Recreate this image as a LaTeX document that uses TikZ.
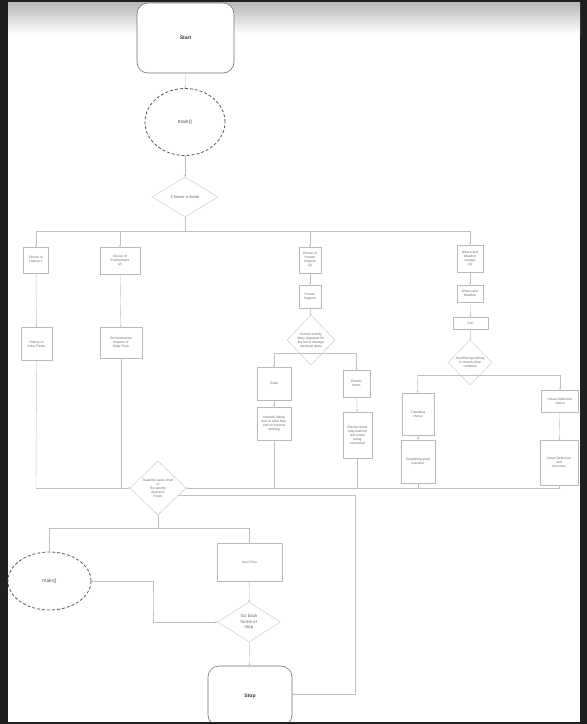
\documentclass[tikz,border=0pt]{standalone}
\usepackage{fontspec}
\setmainfont{Liberation Sans}
\usetikzlibrary{shapes.geometric,arrows.meta}
\tikzset{
  box/.style={draw=black!28, line width=0.4pt, fill=white, align=center, inner sep=0pt,
    font=\fontsize{3.3}{4}\selectfont, text=black!60},
  term/.style={draw=black!55, rounded corners=11pt, line width=0.6pt, fill=white, inner sep=0pt,
    font=\fontsize{5}{6}\selectfont\bfseries, text=black!80},
  ell/.style={ellipse, draw=black!65, densely dashed, line width=0.8pt, fill=white, inner sep=0pt,
    font=\fontsize{5}{6}\selectfont, text=black!70},
  dia/.style={diamond, draw=black!22, line width=0.4pt, fill=white, inner sep=0pt},
  dtext/.style={align=center, inner sep=0pt, font=\fontsize{3.3}{4}\selectfont, text=black!60},
  conn/.style={draw=black!25, line width=0.4pt},
  arr/.style={conn, -{Stealth[length=2pt,width=2pt]}}
}
\begin{document}
\begin{tikzpicture}[x=1pt,y=-1pt]
\useasboundingbox (0,0) rectangle (587,724);
% screenshot frame
\fill[black!88] (0,0) rectangle (587,724);
\fill[white] (8,2) rectangle (580,722);
\shade[top color=black!28, bottom color=white] (8,2) rectangle (580,34);

% main column
\node[term, minimum width=97, minimum height=70] (start) at (185.5,38) {Start};
\node[ell, minimum width=80, minimum height=67] (main1) at (185,122) {main()};
\node[dia, minimum width=66, minimum height=40,
  label={[dtext, font=\fontsize{4}{5}\selectfont]center:Choose a mode}] (choose) at (185,197) {};
\coordinate (split) at (185,231);

% column 1
\node[box, minimum width=25, minimum height=26] (b1) at (36,260) {Choice of\\History 1};
\node[box, minimum width=31, minimum height=33] (b1b) at (36.5,344) {History of\\Solar Flares};
% column 2
\node[box, minimum width=40, minimum height=27] (b2) at (120,260.5) {Choice of\\Environment\\(2)};
\node[box, minimum width=42, minimum height=31] (b2b) at (121,342.5) {Environmental\\Impacts of\\Solar Flare};
% column 3
\node[box, minimum width=22, minimum height=26] (b3) at (310,260) {Choice of\\Human\\Impacts\\(3)};
\node[box, minimum width=22, minimum height=23] (b3b) at (310,296.5) {Human\\Impacts};
\node[dia, minimum width=48, minimum height=50,
  label={[dtext]center:Human activity\\likely impacted if it\\the fail or damage\\electrical items}] (d3) at (311,340) {};
\coordinate (h3l) at (274,353);
\coordinate (h3r) at (356.5,353);
\node[box, minimum width=34, minimum height=33] (s1) at (274,383.5) {Solar};
\node[box, minimum width=34, minimum height=33] (s2) at (274,423.5) {Network failing\\due to solar flare\\and no internet\\working};
\node[box, minimum width=27, minimum height=27] (e1) at (356.5,383.5) {Electric\\Items};
\node[box, minimum width=29, minimum height=46] (e2) at (357.5,435) {Electric items\\stop working\\and needs\\being\\connected};
% column 4
\node[box, minimum width=26, minimum height=27] (b4) at (470,258.5) {Where and\\Weather\\change\\(4)};
\node[box, minimum width=26, minimum height=17] (b4b) at (470,293.5) {Where and\\Weather};
\node[box, minimum width=35, minimum height=12] (b4c) at (470.5,323) {Sun};
\node[dia, minimum width=44, minimum height=45,
  label={[dtext]center:Avoid being nothing\\in closed urban\\condition}] (d4) at (470,362.5) {};
\coordinate (h4l) at (417.5,375);
\coordinate (h4r) at (560,375);
\node[box, minimum width=32, minimum height=42] (t1) at (418,414) {Travelling\\choice};
\node[box, minimum width=34, minimum height=43] (t2) at (418,461.5) {Something good\\outcome};
\node[box, minimum width=37, minimum height=22] (u1) at (560,401) {Urban Defensive\\choice};
\node[box, minimum width=38, minimum height=45] (u2) at (559,462.5) {Urban Defensive\\and\\outcomes};

% merge
\coordinate (ml) at (36,488);
\coordinate (mr) at (560,488);
\node[dia, minimum width=56, minimum height=54,
  label={[dtext]center:Read the same chart\\or\\Re-specify\\decisions\\Finish}] (d5) at (158,488) {};
\coordinate (h5) at (158,528);
\coordinate (h5l) at (49.5,528);
\coordinate (h5r) at (249.5,528);
\node[ell, minimum width=83, minimum height=58] (main2) at (49.5,581) {main()};
\node[box, minimum width=65, minimum height=38] (next) at (249.5,562) {Next Time};
\node[dia, minimum width=63, minimum height=40,
  label={[dtext, font=\fontsize{4.5}{5.5}\selectfont]center:Go back\\home or\\stop}] (d6) at (249,622) {};
\coordinate (bend) at (153,600);
\node[term, minimum width=84, minimum height=60] (stop) at (250,696) {Stop};
\coordinate (rr) at (355,694);

% connectors: top
\draw[arr] (start) -- (main1);
\draw[arr] (main1) -- (choose);
\draw[conn] (choose.south) -- (split);
\draw[arr] (split) -| (b1.north);
\draw[arr] (split) -| (b2.north);
\draw[arr] (split) -| (b3.north);
\draw[arr] (split) -| (b4.north);
% column 1,2
\draw[arr] (b1) -- (b1b);
\draw[arr] (b2) -- (b2b);
% column 3
\draw[arr] (b3) -- (b3b);
\draw[arr] (b3b) -- (d3);
\draw[conn] (h3l) -- (h3r);
\draw[arr] (h3l) -- (s1);
\draw[arr] (h3r) -- (e1);
\draw[arr] (s1) -- (s2);
\draw[arr] (e1) -- (e2);
% column 4
\draw[arr] (b4) -- (b4b);
\draw[arr] (b4b) -- (b4c);
\draw[arr] (b4c) -- (d4);
\draw[conn] (h4l) -- (h4r);
\draw[arr] (h4l) -- (t1);
\draw[arr] (h4r) -- (u1);
\draw[arr] (t1) -- (t2);
\draw[arr] (u1) -- (u2);
% merge line
\draw[conn] (b1b.south) -- (ml);
\draw[conn] (b2b.south) -- (b2b.south |- ml);
\draw[conn] (s2.south) -- (s2.south |- ml);
\draw[conn] (e2.south) -- (e2.south |- ml);
\draw[conn] (t2.south) -- (t2.south |- ml);
\draw[conn] (u2.south) -- (u2.south |- mr);
\draw[arr] (ml) -- (d5.west);
\draw[arr] (mr) -- (d5.east);
% bottom
\draw[conn] (d5.south) -- (h5);
\draw[conn] (h5l) -- (h5r);
\draw[arr] (h5l) -- (main2.north);
\draw[arr] (h5r) -- (next.north);
\draw[arr] (next) -- (d6);
\draw[arr] (main2.east) -| (bend) |- (d6.west);
\draw[arr] (d6) -- (stop);
\draw[arr] (d5.-20) -| (rr) -- (stop.east |- rr);

% bottom frame edge
\fill[black!88] (0,722) rectangle (587,724);
\end{tikzpicture}
\end{document}
